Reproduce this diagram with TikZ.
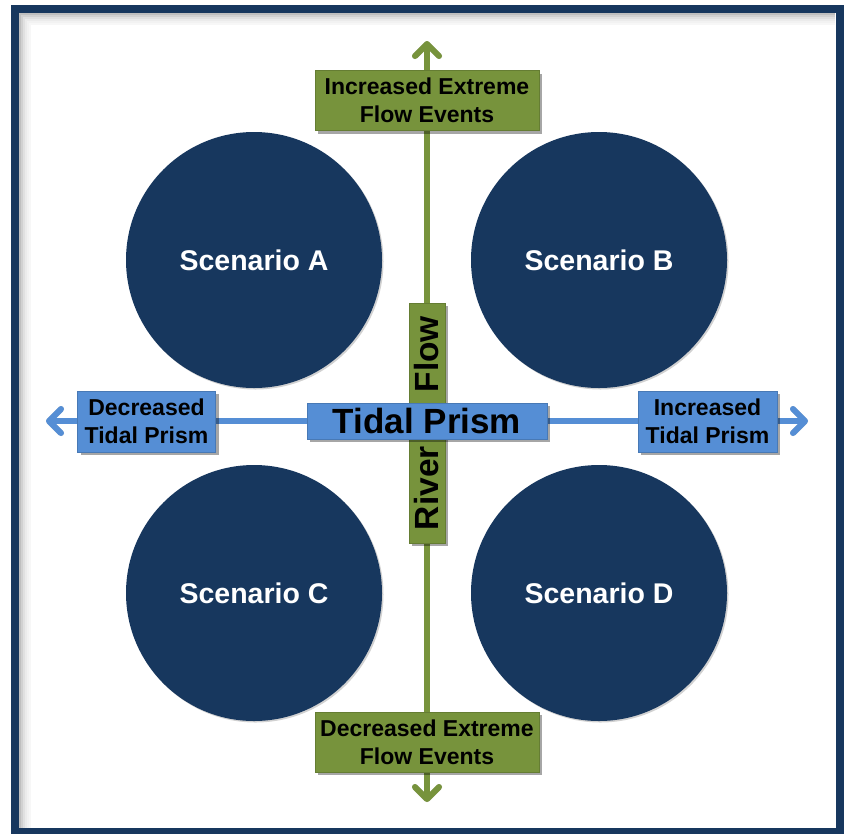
\documentclass[tikz,border=0pt]{standalone}
\usepackage{fontspec}
\setmainfont{Liberation Sans}
\usetikzlibrary{arrows.meta,shadows}
\definecolor{navy}{HTML}{17375E}
\definecolor{grn}{HTML}{77933C}
\definecolor{blu}{HTML}{558ED5}
\tikzset{
  scen/.style={circle, fill=navy, minimum size=256pt, inner sep=0pt, text=white,
    font=\bfseries\fontsize{28.5}{32}\selectfont,
    drop shadow={shadow xshift=1.5pt, shadow yshift=-1.5pt, opacity=0.18, fill=black}},
  gbox/.style={rectangle, fill=grn, draw=grn!85!black, line width=0.6pt, inner sep=0pt, align=center,
    font=\bfseries\fontsize{23}{28}\selectfont,
    drop shadow={shadow xshift=3pt, shadow yshift=-3pt, opacity=0.35, fill=black}},
  bbox/.style={rectangle, fill=blu, draw=blu!85!black, line width=0.6pt, inner sep=0pt, align=center,
    font=\bfseries\fontsize{23}{28}\selectfont,
    drop shadow={shadow xshift=3pt, shadow yshift=-3pt, opacity=0.35, fill=black}},
  tipb/.tip={Straight Barb[length=12pt,width=24pt,line width=6pt,line cap=round,line join=round]},
  arrowshadow/.style={draw=black, opacity=0.2, line width=6pt, tipb-tipb, xshift=3pt, yshift=-3pt},
  garrow/.style={draw=grn, line width=6pt, tipb-tipb},
  barrow/.style={draw=blu, line width=6pt, tipb-tipb},
}
\begin{document}
\begin{tikzpicture}[x=1pt,y=-1pt]
\useasboundingbox (0,0) rectangle (845,833);
\fill[white] (0,0) rectangle (845,833);
% frame shadow
\draw[black!30, line width=3pt] (842,12) -- (842,833);
\foreach \k/\o in {1/0.25,2/0.18,3/0.12,4/0.08,5/0.05,6/0.03}{
  \draw[black, opacity=\o, line width=2pt] (19+2*\k-1,833) -- (19+2*\k-1,13+2*\k-1) -- (835,13+2*\k-1);
}
\draw[navy, line width=8pt] (15,9) rectangle (839.5,832);
% circles
\node[scen] (A) at (254,260) {Scenario A};
\node[scen] (B) at (599,260) {Scenario B};
\node[scen] (C) at (254,593) {Scenario C};
\node[scen] (D) at (599,593) {Scenario D};
% axes
\coordinate (ntip) at (427,41);
\coordinate (stip) at (427,802);
\coordinate (wtip) at (46,421);
\coordinate (etip) at (808,421);
\draw[arrowshadow] (stip) -- (ntip);
\draw[arrowshadow] (wtip) -- (etip);
\draw[garrow] (stip) -- (ntip);
\draw[barrow] (wtip) -- (etip);
% labels
\node[gbox, minimum width=224pt, minimum height=60pt] (inc) at (427,100.5) {Increased Extreme\\Flow Events};
\node[gbox, minimum width=224pt, minimum height=60pt] (dec) at (427,742) {Decreased Extreme\\Flow Events};
\node[bbox, minimum width=138pt, minimum height=61pt] (dtp) at (146.5,421.5) {Decreased\\Tidal Prism};
\node[bbox, minimum width=139pt, minimum height=61pt] (itp) at (707.5,421.5) {Increased\\Tidal Prism};
\node[gbox, minimum width=240pt, minimum height=36pt, rotate=90, font=\bfseries\fontsize{33.5}{36}\selectfont] (rf) at (427,423) {River\hspace{54pt}Flow};
\node[bbox, minimum width=240pt, minimum height=36pt, font=\bfseries\fontsize{35}{38}\selectfont] (tp) at (427,421) {Tidal Prism};
\end{tikzpicture}
\end{document}
